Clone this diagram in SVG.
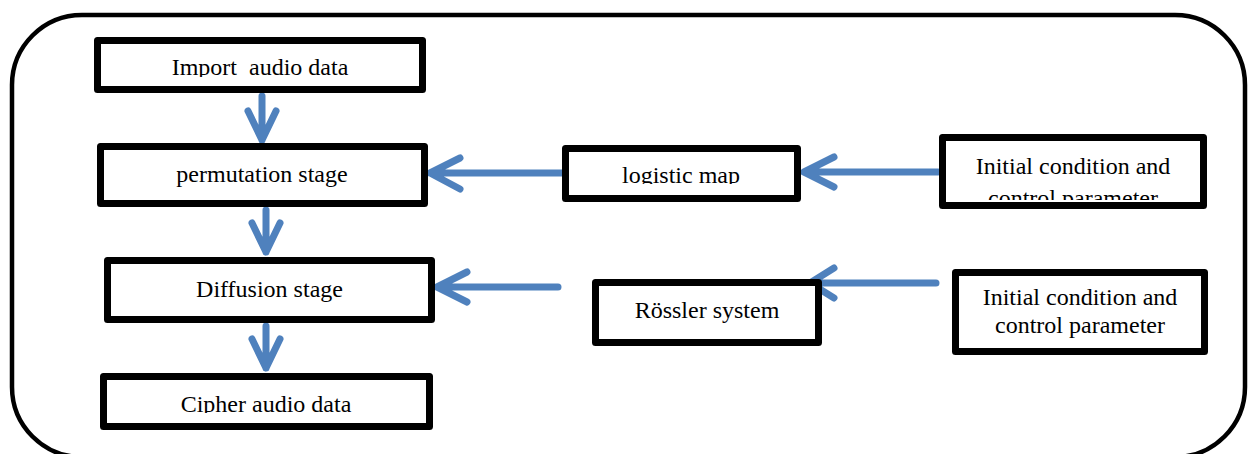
<svg xmlns="http://www.w3.org/2000/svg" width="1254" height="454" viewBox="0 0 1254 454">
<style>
.box{fill:#fff;stroke:#000;stroke-width:7;stroke-linejoin:round}
.lbl{font-family:"Liberation Serif","Times New Roman",serif;font-size:24px;fill:#000;text-anchor:middle}
.conn{fill:none;stroke:#4F81BD;stroke-width:7;stroke-linecap:round;stroke-linejoin:round}
</style>
<defs>
<clipPath id="c1"><rect x="0" y="0" width="1254" height="77"/></clipPath>
<clipPath id="c4"><rect x="0" y="0" width="1254" height="413"/></clipPath>
<clipPath id="c5"><rect x="0" y="0" width="1254" height="184"/></clipPath>
<clipPath id="c7"><rect x="0" y="0" width="1254" height="200"/></clipPath>
</defs>
<rect width="1254" height="454" fill="#fff"/>
<rect id="frame" x="12" y="15" width="1233" height="442" rx="70" ry="70" fill="none" stroke="#000" stroke-width="4.5"/>
<g id="connectors">
  <path class="conn" d="M262 96V140M248 111L262 140L276 111"/>
  <path class="conn" d="M266 210V252M252 223L266 252L280 223"/>
  <path class="conn" d="M266 326V368M252 339L266 368L280 339"/>
  <path class="conn" d="M562 173H430M460 158L430 173L460 189"/>
  <path class="conn" d="M938 172H804M834 157L804 172L834 187"/>
  <path class="conn" d="M558 287H437M467 272L437 287L467 302"/>
  <path class="conn" d="M936 283H810M834 268L810 283L834 298"/>
</g>
<g id="n-import">
  <rect class="box" x="97.5" y="40.5" width="325" height="49"/>
  <text class="lbl" x="260" y="75" clip-path="url(#c1)" xml:space="preserve">Import  audio data</text>
</g>
<g id="n-permutation">
  <rect class="box" x="100.5" y="146.5" width="324" height="57"/>
  <text class="lbl" x="262" y="182">permutation stage</text>
</g>
<g id="n-diffusion">
  <rect class="box" x="107.5" y="260.5" width="324" height="59"/>
  <text class="lbl" x="269.5" y="297">Diffusion stage</text>
</g>
<g id="n-cipher">
  <rect class="box" x="103.5" y="376.5" width="326" height="50"/>
  <text class="lbl" x="266" y="412" clip-path="url(#c4)">Cipher audio data</text>
</g>
<g id="n-logistic">
  <rect class="box" x="565.5" y="148.5" width="232" height="50"/>
  <text class="lbl" x="681" y="183" clip-path="url(#c5)">logistic map</text>
</g>
<g id="n-rossler">
  <rect class="box" x="595.5" y="282.5" width="223" height="60"/>
  <text class="lbl" x="707" y="318">Rössler system</text>
</g>
<g id="n-init1">
  <rect class="box" x="942.5" y="137.5" width="261" height="68"/>
  <g clip-path="url(#c7)">
    <text class="lbl" x="1073" y="174">Initial condition and</text>
    <text class="lbl" x="1073" y="206">control parameter</text>
  </g>
</g>
<g id="n-init2">
  <rect class="box" x="955.5" y="272.5" width="249" height="79"/>
  <text class="lbl" x="1080" y="305">Initial condition and</text>
  <text class="lbl" x="1080" y="333">control parameter</text>
</g>
</svg>
